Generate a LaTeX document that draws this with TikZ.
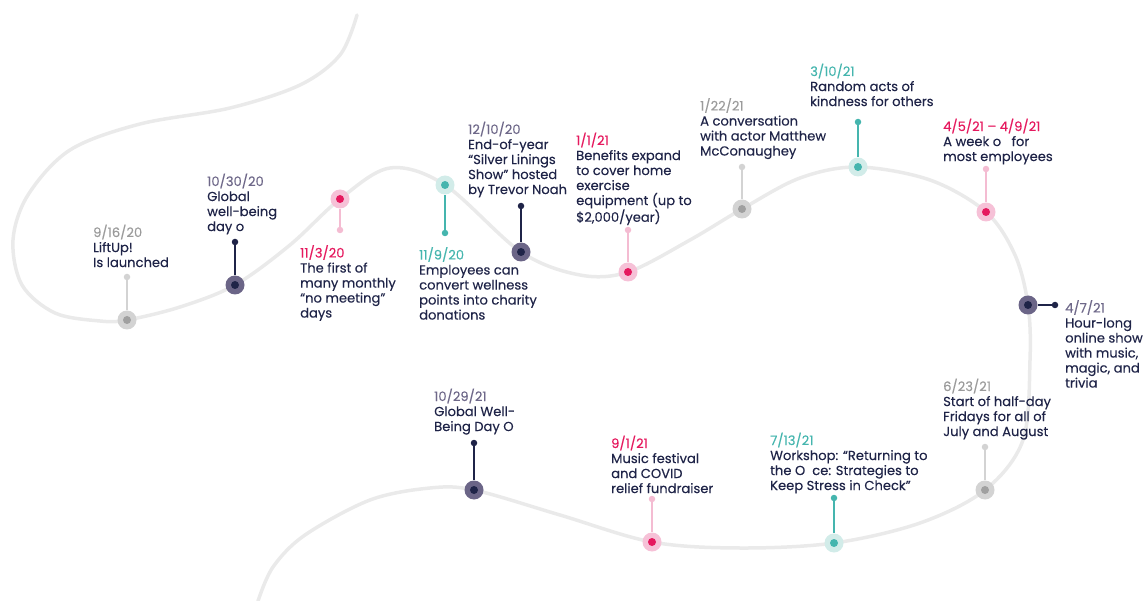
\documentclass[tikz,border=0pt]{standalone}
\usepackage{fontspec}
\setmainfont{Poppins}[FakeBold=0.25]
\definecolor{curvegray}{HTML}{EAEAEA}
\definecolor{txt}{HTML}{1F2448}
\definecolor{pinkdot}{HTML}{E5195E}
\definecolor{pinkhalo}{HTML}{F6C1D7}
\definecolor{pinkstem}{HTML}{F4BCD2}
\definecolor{tealdot}{HTML}{45B5AE}
\definecolor{tealhalo}{HTML}{D2ECE9}
\definecolor{navydot}{HTML}{1F2448}
\definecolor{navyhalo}{HTML}{6B6587}
\definecolor{navydate}{HTML}{6E6889}
\definecolor{graydot}{HTML}{A0A0A0}
\definecolor{grayhalo}{HTML}{D3D3D3}
\definecolor{graydate}{HTML}{9B9B9B}
\tikzset{
  curve/.style={draw=curvegray, line width=3.5pt, line cap=round},
  halo/.style={circle, fill=#1, minimum size=19pt, inner sep=0pt},
  core/.style={circle, fill=#1, minimum size=8pt, inner sep=0pt},
  tip/.style={circle, fill=#1, minimum size=6.5pt, inner sep=0pt},
  stem/.style={draw=#1, line width=1.8pt},
  evtext/.style={anchor=north west, align=left, inner sep=0pt, text=txt, font=\fontsize{13.1}{15}\selectfont},
}
\begin{document}
\begin{tikzpicture}[x=1pt,y=-1pt]
\useasboundingbox (0,0) rectangle (1145,601);
% timeline curve
\draw[curve] plot[smooth, tension=0.55] coordinates {
 (357,15) (340,55) (300,85) (230,108) (140,124) (70,150) (28,195) (13,240) (22,285) (55,313) (100,321) (127,320)
 (180,307) (235,285) (290,245) (340,199) (390,168) (445,185) (521,252) (580,275) (628,272) (690,240) (742,209)
 (800,178) (858,167) (930,180) (986,212) (1015,255) (1028,305) (1030,360) (1023,440) (985,490) (920,523)
 (834,543) (740,548) (652,542) (560,515) (474,490) (430,488) (370,500) (305,535) (273,567) (258,601)};

% 1
\node[tip=grayhalo] (t1) at (127,277) {};
\node[halo=grayhalo] (h1) at (127,320) {};
\draw[stem=grayhalo] (t1) -- (h1);
\node[core=graydot] (c1) at (h1) {};
\node[evtext] (l1) at (93,224.5) {\textcolor{graydate}{9/16/20}\\LiftUp!\\Is launched};
% 2
\node[tip=navydot] (t2) at (235,242) {};
\node[halo=navyhalo] (h2) at (235,285) {};
\draw[stem=navydot] (t2) -- (h2);
\node[core=navydot] (c2) at (h2) {};
\node[evtext] (l2) at (207,173.5) {\textcolor{navydate}{10/30/20}\\Global\\well-being\\day o};
% 3
\node[tip=pinkstem] (t3) at (340,230) {};
\node[halo=pinkhalo] (h3) at (340,199) {};
\draw[stem=pinkstem] (t3) -- (h3);
\node[core=pinkdot] (c3) at (h3) {};
\node[evtext] (l3) at (300,245) {\textcolor{pinkdot}{11/3/20}\\The first of\\many monthly\\“no meeting”\\days};
% 4
\node[tip=tealdot] (t4) at (445,233) {};
\node[halo=tealhalo] (h4) at (445,185) {};
\draw[stem=tealdot] (t4) -- (h4);
\node[core=tealdot] (c4) at (h4) {};
\node[evtext] (l4) at (419,247) {\textcolor{tealdot}{11/9/20}\\Employees can\\convert wellness\\points into charity\\donations};
% 5
\node[tip=navydot] (t5) at (521,206) {};
\node[halo=navyhalo] (h5) at (521,252) {};
\draw[stem=navydot] (t5) -- (h5);
\node[core=navydot] (c5) at (h5) {};
\node[evtext] (l5) at (468,121.5) {\textcolor{navydate}{12/10/20}\\End-of-year\\“Silver Linings\\Show” hosted\\by Trevor Noah};
% 6
\node[tip=pinkstem] (t6) at (628,230) {};
\node[halo=pinkhalo] (h6) at (628,272) {};
\draw[stem=pinkstem] (t6) -- (h6);
\node[core=pinkdot] (c6) at (h6) {};
\node[evtext] (l6) at (576,132.5) {\textcolor{pinkdot}{1/1/21}\\Benefits expand\\to cover home\\exercise\\equipment (up to\\\$2,000/year)};
% 7
\node[tip=grayhalo] (t7) at (742,167) {};
\node[halo=grayhalo] (h7) at (742,209) {};
\draw[stem=grayhalo] (t7) -- (h7);
\node[core=graydot] (c7) at (h7) {};
\node[evtext] (l7) at (700,98) {\textcolor{graydate}{1/22/21}\\A conversation\\with actor Matthew\\McConaughey};
% 8
\node[tip=tealdot] (t8) at (858,122) {};
\node[halo=tealhalo] (h8) at (858,167) {};
\draw[stem=tealdot] (t8) -- (h8);
\node[core=tealdot] (c8) at (h8) {};
\node[evtext] (l8) at (810,63.5) {\textcolor{tealdot}{3/10/21}\\Random acts of\\kindness for others};
% 9
\node[tip=pinkstem] (t9) at (986,169) {};
\node[halo=pinkhalo] (h9) at (986,212) {};
\draw[stem=pinkstem] (t9) -- (h9);
\node[core=pinkdot] (c9) at (h9) {};
\node[evtext] (l9) at (943,118.5) {\textcolor{pinkdot}{4/5/21 – 4/9/21}\\A week o\ \ \ for\\most employees};
% 10
\node[tip=navydot] (t10) at (1055,305) {};
\node[halo=navyhalo] (h10) at (1028,305) {};
\draw[stem=navydot] (t10) -- (h10);
\node[core=navydot] (c10) at (h10) {};
\node[evtext] (l10) at (1065,300) {\textcolor{navydate}{4/7/21}\\Hour-long\\online show\\with music,\\magic, and\\trivia};
% 11
\node[tip=grayhalo] (t11) at (985,447) {};
\node[halo=grayhalo] (h11) at (985,490) {};
\draw[stem=grayhalo] (t11) -- (h11);
\node[core=graydot] (c11) at (h11) {};
\node[evtext] (l11) at (943,378.5) {\textcolor{graydate}{6/23/21}\\Start of half-day\\Fridays for all of\\July and August};
% 12
\node[tip=tealdot] (t12) at (834,498) {};
\node[halo=tealhalo] (h12) at (834,543) {};
\draw[stem=tealdot] (t12) -- (h12);
\node[core=tealdot] (c12) at (h12) {};
\node[evtext] (l12) at (770,432.5) {\textcolor{tealdot}{7/13/21}\\Workshop: “Returning to\\the O\ \ ce: Strategies to\\Keep Stress in Check”};
% 13
\node[tip=pinkstem] (t13) at (652,499) {};
\node[halo=pinkhalo] (h13) at (652,542) {};
\draw[stem=pinkstem] (t13) -- (h13);
\node[core=pinkdot] (c13) at (h13) {};
\node[evtext] (l13) at (611,435.5) {\textcolor{pinkdot}{9/1/21}\\Music festival\\and COVID\\relief fundraiser};
% 14
\node[tip=navydot] (t14) at (474,443) {};
\node[halo=navyhalo] (h14) at (474,490) {};
\draw[stem=navydot] (t14) -- (h14);
\node[core=navydot] (c14) at (h14) {};
\node[evtext] (l14) at (434,388.5) {\textcolor{navydate}{10/29/21}\\Global Well-\\Being Day O};
\end{tikzpicture}
\end{document}
